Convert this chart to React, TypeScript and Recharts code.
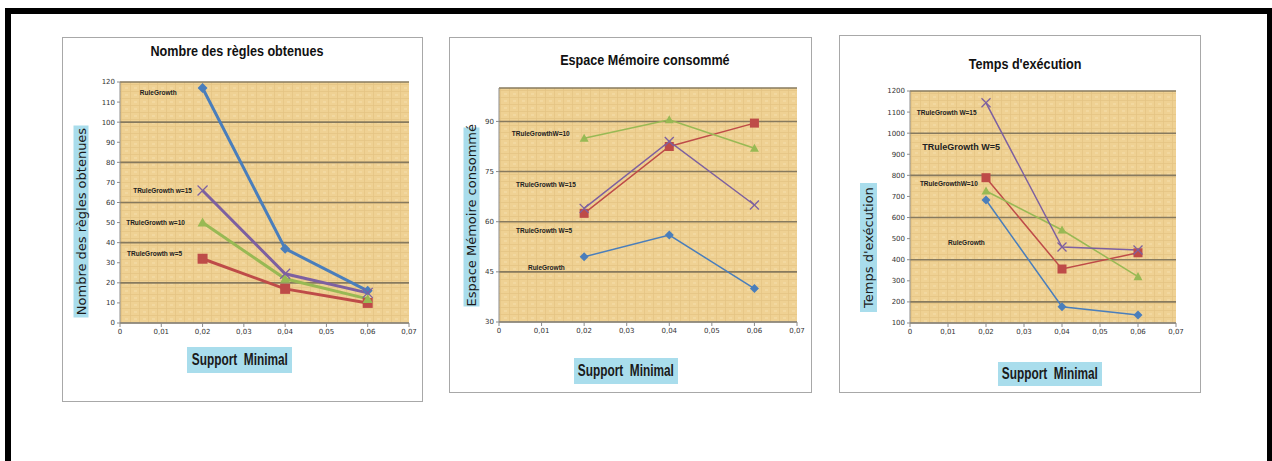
import React from "react";
import { CartesianGrid, Line, LineChart, ReferenceDot, XAxis, YAxis } from "recharts";

// Minimal support values (x axis) and axis ticks
const SUPPORT = [0.02, 0.04, 0.06];
const X_TICKS = [0, 0.01, 0.02, 0.03, 0.04, 0.05, 0.06, 0.07];

// Nombre des règles obtenues
const REGLES_RG = [117, 37, 16];
const REGLES_W5 = [32, 17, 10];
const REGLES_W10 = [50, 22, 12];
const REGLES_W15 = [66, 24.5, 15];
const REGLES_TICKS = [0, 10, 20, 30, 40, 50, 60, 70, 80, 90, 100, 110, 120];

// Espace mémoire consommé
const MEM_RG = [49.5, 56, 40];
const MEM_W5 = [62.5, 82.5, 89.5];
const MEM_W10 = [85, 90.5, 82];
const MEM_W15 = [64, 84, 65];
const MEM_TICKS = [30, 45, 60, 75, 90];

// Temps d'exécution
const TEMPS_RG = [683, 177, 138];
const TEMPS_W5 = [789, 356, 433];
const TEMPS_W10 = [726, 541, 320];
const TEMPS_W15 = [1144, 460, 446];
const TEMPS_TICKS = [100, 200, 300, 400, 500, 600, 700, 800, 900, 1000, 1100, 1200];

const BLUE = "#4A7EBB";
const RED = "#BE4B48";
const GREEN = "#98B954";
const PURPLE = "#7D60A0";

const SANS = "'Liberation Sans', Arial, sans-serif";

type Row = { support: number; rg: number; w5: number; w10: number; w15: number };

const rows = (rg: number[], w5: number[], w10: number[], w15: number[]): Row[] =>
  SUPPORT.map((s, i) => ({ support: s, rg: rg[i], w5: w5[i], w10: w10[i], w15: w15[i] }));

const fmtX = (v: number) => (v === 0 ? "0" : v.toFixed(2).replace(".", ","));

type Shape = "diamond" | "square" | "triangle" | "cross";

const marker = (shape: Shape, color: string, s: number) => (props: any) => {
  const { cx, cy, index } = props;
  if (cx == null || cy == null) return <g key={index} />;
  if (shape === "diamond")
    return (
      <polygon key={index} points={`${cx},${cy - s} ${cx + s},${cy} ${cx},${cy + s} ${cx - s},${cy}`} fill={color} />
    );
  if (shape === "square")
    return <rect key={index} x={cx - s} y={cy - s} width={s * 2} height={s * 2} fill={color} />;
  if (shape === "triangle")
    return (
      <polygon key={index} points={`${cx},${cy - s} ${cx + s},${cy + s * 0.8} ${cx - s},${cy + s * 0.8}`} fill={color} />
    );
  return (
    <g key={index} stroke={color} strokeWidth={1.3}>
      <line x1={cx - s} y1={cy - s} x2={cx + s} y2={cy + s} />
      <line x1={cx - s} y1={cy + s} x2={cx + s} y2={cy - s} />
    </g>
  );
};

type Note = { x: number; y: number; text: string; size?: number };

type PanelProps = {
  id: string;
  data: Row[];
  yDomain: [number, number];
  yTicks: number[];
  notes: Note[];
  left: number;
  top: number;
  width: number;
  height: number;
  lineWidth: number;
  markerSize: number;
};

function Panel({ id, data, yDomain, yTicks, notes, left, top, width, height, lineWidth, markerSize }: PanelProps) {
  const series: { key: keyof Row; color: string; shape: Shape }[] = [
    { key: "rg", color: BLUE, shape: "diamond" },
    { key: "w5", color: RED, shape: "square" },
    { key: "w10", color: GREEN, shape: "triangle" },
    { key: "w15", color: PURPLE, shape: "cross" },
  ];
  return (
    <div style={{ position: "absolute", left, top }}>
      <LineChart width={width} height={height} data={data} margin={{ top: 5, right: 12, bottom: 0, left: 0 }}>
        <defs>
          <pattern id={`parch-${id}`} width="9" height="7" patternUnits="userSpaceOnUse">
            <rect width="9" height="7" fill="#EFD193" />
            <path d="M0 0.5H9 M0.5 0V7" stroke="#E4C383" strokeWidth="0.7" />
            <rect x="4" y="3" width="3" height="2" fill="#F4DCA8" opacity="0.6" />
          </pattern>
        </defs>
        <CartesianGrid vertical={false} stroke="#877A5E" strokeWidth={1.6} fill={`url(#parch-${id})`} />
        <XAxis
          dataKey="support"
          type="number"
          domain={[0, 0.07]}
          ticks={X_TICKS}
          tickFormatter={fmtX}
          stroke="#8C8C8C"
          tickSize={4}
          height={22}
          tick={{ fontSize: 7, fill: "#333", fontFamily: "DejaVu Sans" }}
        />
        <YAxis
          type="number"
          domain={yDomain}
          ticks={yTicks}
          allowDataOverflow
          stroke="#8C8C8C"
          tickSize={3}
          width={26}
          tick={{ fontSize: 7, fill: "#333", fontFamily: "DejaVu Sans" }}
        />
        {series.map((s) => (
          <Line
            key={s.key}
            dataKey={s.key}
            stroke={s.color}
            strokeWidth={lineWidth}
            dot={marker(s.shape, s.color, markerSize)}
            activeDot={false}
            isAnimationActive={false}
          />
        ))}
        {notes.map((n) => (
          <ReferenceDot
            key={n.text}
            x={n.x}
            y={n.y}
            r={0}
            fill="none"
            stroke="none"
            label={{
              value: n.text,
              position: "right",
              offset: 0,
              fontSize: n.size ?? 6.5,
              fontWeight: "bold",
              fill: "#222",
              fontFamily: SANS,
            }}
          />
        ))}
      </LineChart>
    </div>
  );
}

const box: React.CSSProperties = {
  position: "absolute",
  boxSizing: "border-box",
  border: "1.5px solid #A8A8A8",
  background: "#fff",
};

// bold text squeezed horizontally, centred in its box even when wider than it
const centred: React.CSSProperties = {
  position: "absolute",
  display: "flex",
  justifyContent: "center",
  alignItems: "center",
  fontFamily: SANS,
  fontWeight: "bold",
  whiteSpace: "nowrap",
};

const Title = ({ text, cx, cy }: { text: string; cx: number; cy: number }) => (
  <div style={{ ...centred, left: cx - 150, top: cy - 10, width: 300, height: 20, fontSize: 15, color: "#111" }}>
    <span style={{ display: "inline-block", transform: "scaleX(0.84)" }}>{text}</span>
  </div>
);

const XTitle = ({ x, y, w, h }: { x: number; y: number; w: number; h: number }) => (
  <div style={{ ...centred, left: x, top: y, width: w, height: h, background: "#A9DDEC", fontSize: 16, color: "#1a1a1a" }}>
    <span style={{ display: "inline-block", transform: "scaleX(0.74)" }}>Support&nbsp; Minimal</span>
  </div>
);

const YTitle = ({ text, cx, cy, len, thick }: { text: string; cx: number; cy: number; len: number; thick: number }) => (
  <div
    style={{
      position: "absolute",
      left: cx - len / 2,
      top: cy - thick / 2,
      width: len,
      height: thick,
      transform: "rotate(-90deg)",
      background: "#A9DDEC",
      textAlign: "center",
      fontFamily: "'DejaVu Sans', sans-serif",
      fontSize: 13,
      lineHeight: `${thick}px`,
      color: "#1a1a1a",
      whiteSpace: "nowrap",
    }}
  >
    {text}
  </div>
);

export default function App() {
  return (
    <div style={{ position: "absolute", left: 0, top: 0, width: 1272, height: 461, background: "#fff", overflow: "hidden" }}>
      <div
        style={{
          position: "absolute",
          left: 5,
          top: 8,
          width: 1267,
          height: 470,
          boxSizing: "border-box",
          borderTop: "6px solid #000",
          borderLeft: "6px solid #000",
          borderRight: "5px solid #000",
        }}
      />

      {/* Nombre des règles obtenues */}
      <div style={{ ...box, left: 62, top: 37, width: 361, height: 365 }} />
      <Title text="Nombre des règles obtenues" cx={237} cy={50} />
      <YTitle text="Nombre des règles obtenues" cx={80.5} cy={221} len={192} thick={15} />
      <XTitle x={187} y={347} w={105} h={26} />
      <Panel
        id="regles"
        data={rows(REGLES_RG, REGLES_W5, REGLES_W10, REGLES_W15)}
        yDomain={[0, 120]}
        yTicks={REGLES_TICKS}
        notes={[
          { x: 0.0048, y: 114.5, text: "RuleGrowth" },
          { x: 0.0032, y: 65.7, text: "TRuleGrowth  w=15" },
          { x: 0.0015, y: 49.8, text: "TRuleGrowth  w=10" },
          { x: 0.0017, y: 34.4, text: "TRuleGrowth  w=5" },
        ]}
        left={94}
        top={77}
        width={327}
        height={268}
        lineWidth={3}
        markerSize={5}
      />

      {/* Espace Mémoire consommé */}
      <div style={{ ...box, left: 449, top: 37, width: 363, height: 356 }} />
      <Title text="Espace Mémoire consommé" cx={645} cy={59} />
      <YTitle text="Espace Mémoire consommé" cx={471} cy={216.5} len={179} thick={16} />
      <XTitle x={574} y={358} w={104} h={26} />
      <Panel
        id="memoire"
        data={rows(MEM_RG, MEM_W5, MEM_W10, MEM_W15)}
        yDomain={[30, 100]}
        yTicks={MEM_TICKS}
        notes={[
          { x: 0.003, y: 86.2, text: "TRuleGrowthW=10" },
          { x: 0.004, y: 71, text: "TRuleGrowth  W=15" },
          { x: 0.004, y: 57.2, text: "TRuleGrowth  W=5" },
          { x: 0.0068, y: 46.2, text: "RuleGrowth" },
        ]}
        left={473}
        top={83}
        width={336}
        height={261}
        lineWidth={1.5}
        markerSize={4.5}
      />

      {/* Temps d'exécution */}
      <div style={{ ...box, left: 839, top: 35, width: 362, height: 358 }} />
      <Title text="Temps d'exécution" cx={1025} cy={63} />
      <YTitle text="Temps d'exécution" cx={868.5} cy={247.5} len={129} thick={17} />
      <XTitle x={998} y={362} w={104} h={24} />
      <Panel
        id="temps"
        data={rows(TEMPS_RG, TEMPS_W5, TEMPS_W10, TEMPS_W15)}
        yDomain={[100, 1200]}
        yTicks={TEMPS_TICKS}
        notes={[
          { x: 0.0018, y: 1096, text: "TRuleGrowth  W=15" },
          { x: 0.0032, y: 934, text: "TRuleGrowth W=5", size: 9 },
          { x: 0.0026, y: 759, text: "TRuleGrowthW=10" },
          { x: 0.01, y: 479, text: "RuleGrowth" },
        ]}
        left={884}
        top={86}
        width={304}
        height={259}
        lineWidth={1.5}
        markerSize={4.5}
      />
    </div>
  );
}
